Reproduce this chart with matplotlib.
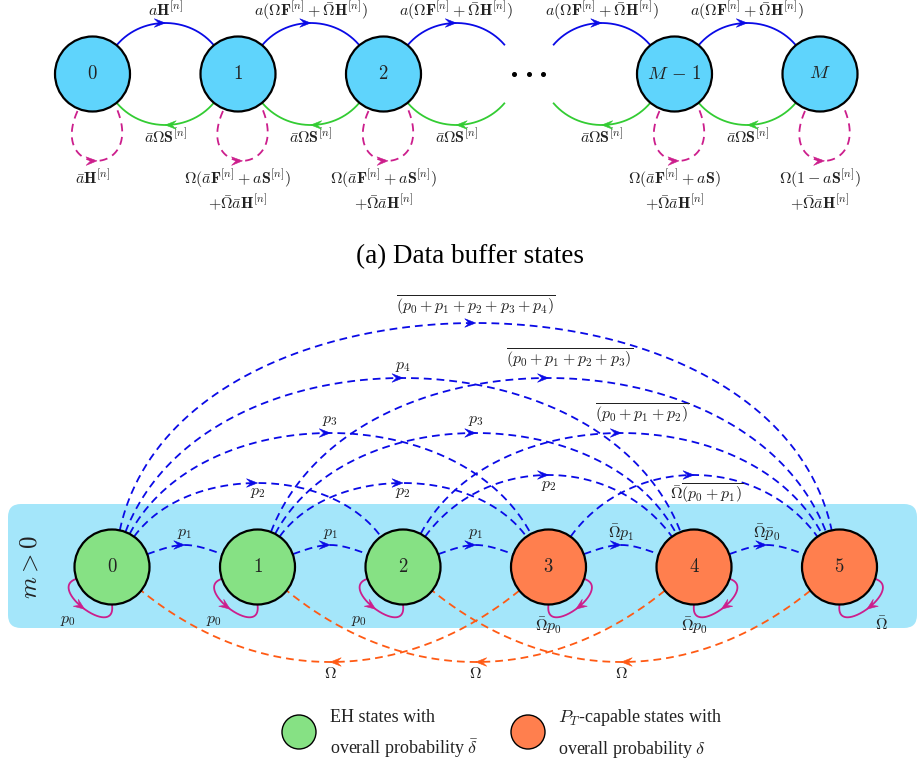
import numpy as np
import matplotlib
matplotlib.use("Agg")
import matplotlib.pyplot as plt
from matplotlib.patches import Circle, FancyBboxPatch, Polygon

plt.rcParams["mathtext.fontset"] = "cm"
plt.rcParams["font.family"] = ["Liberation Serif", "DejaVu Serif"]
plt.rcParams["lines.scale_dashes"] = False

# ---------------- data: buffer chain ----------------
buffer_states = ["$0$", "$1$", "$2$", None, r"$M\,-\,1$", "$M$"]
buffer_up = [
    r"$a\mathbf{H}^{[n]}$",
    r"$a(\Omega\mathbf{F}^{[n]}+\bar{\Omega}\mathbf{H}^{[n]})$",
    r"$a(\Omega\mathbf{F}^{[n]}+\bar{\Omega}\mathbf{H}^{[n]})$",
    r"$a(\Omega\mathbf{F}^{[n]}+\bar{\Omega}\mathbf{H}^{[n]})$",
    r"$a(\Omega\mathbf{F}^{[n]}+\bar{\Omega}\mathbf{H}^{[n]})$",
]
buffer_down = [r"$\bar{a}\Omega\mathbf{S}^{[n]}$"] * 5
buffer_stay = [
    [r"$\bar{a}\mathbf{H}^{[n]}$"],
    [r"$\Omega(\bar{a}\mathbf{F}^{[n]}+a\mathbf{S}^{[n]})$", r"$+\bar{\Omega}\bar{a}\mathbf{H}^{[n]}$"],
    [r"$\Omega(\bar{a}\mathbf{F}^{[n]}+a\mathbf{S}^{[n]})$", r"$+\bar{\Omega}\bar{a}\mathbf{H}^{[n]}$"],
    None,
    [r"$\Omega(\bar{a}\mathbf{F}^{[n]}+a\mathbf{S})$", r"$+\bar{\Omega}\bar{a}\mathbf{H}^{[n]}$"],
    [r"$\Omega(\mathbf{1}-a\mathbf{S}^{[n]})$", r"$+\bar{\Omega}\bar{a}\mathbf{H}^{[n]}$"],
]
caption = "(a) Data buffer states"

# ---------------- data: energy chain ----------------
energy_states = ["$0$", "$1$", "$2$", "$3$", "$4$", "$5$"]
energy_is_eh = [True, True, True, False, False, False]
energy_stay = [r"$p_0$", r"$p_0$", r"$p_0$",
               r"$\bar{\Omega}p_0$", r"$\bar{\Omega}p_0$", r"$\bar{\Omega}$"]
energy_jumps = [
    (0, 1, r"$p_1$"), (1, 2, r"$p_1$"), (2, 3, r"$p_1$"),
    (3, 4, r"$\bar{\Omega}p_1$"), (4, 5, r"$\bar{\Omega}\bar{p}_0$"),
    (0, 2, r"$p_2$"), (1, 3, r"$p_2$"), (2, 4, r"$p_2$"),
    (3, 5, r"$\bar{\Omega}\overline{(p_0+p_1)}$"),
    (0, 3, r"$p_3$"), (1, 4, r"$p_3$"),
    (2, 5, r"$\overline{(p_0+p_1+p_2)}$"),
    (0, 4, r"$p_4$"),
    (1, 5, r"$\overline{(p_0+p_1+p_2+p_3)}$"),
    (0, 5, r"$\overline{(p_0+p_1+p_2+p_3+p_4)}$"),
]
energy_resets = [(3, 0, r"$\Omega$"), (4, 1, r"$\Omega$"), (5, 2, r"$\Omega$")]
legend_items = [("EH states with", r"overall probability $\bar{\delta}$"),
                (r"$P_T$-capable states with", r"overall probability $\delta$")]

# ---------------- styling / layout ----------------
C_BUF = "#5FD4FC"
C_EH = "#86E184"
C_PT = "#FF7F4E"
C_BOX = "#A4E6FA"
C_BLUE = "#0A0AE6"
C_GREEN = "#33CC33"
C_MAG = "#CC1E8C"
C_ORANGE = "#FF5A14"
R = 37.5
MATH = 11.5

fig = plt.figure(figsize=(9.18, 7.68), dpi=100)
ax = fig.add_axes([0, 0, 1, 1])
ax.set_xlim(0, 918)
ax.set_ylim(768, 0)
ax.set_aspect("equal")
ax.axis("off")


def unit(deg):
    a = np.radians(deg)
    return np.array([np.cos(a), -np.sin(a)])


def cubic(p, n=300):
    t = np.linspace(0, 1, n)[:, None]
    return ((1 - t) ** 3 * p[0] + 3 * (1 - t) ** 2 * t * p[1]
            + 3 * (1 - t) * t ** 2 * p[2] + t ** 3 * p[3])


def at(p, t):
    pt = ((1 - t) ** 3 * p[0] + 3 * (1 - t) ** 2 * t * p[1]
          + 3 * (1 - t) * t ** 2 * p[2] + t ** 3 * p[3])
    d = 3 * ((1 - t) ** 2 * (p[1] - p[0]) + 2 * (1 - t) * t * (p[2] - p[1])
             + t ** 2 * (p[3] - p[2]))
    return pt, d


def bend(c0, c1, out_deg, in_deg, apex_y):
    u0, u1 = unit(out_deg), unit(in_deg)
    p0 = np.asarray(c0, float) + R * u0
    p3 = np.asarray(c1, float) + R * u1
    d = (apex_y - (p0[1] + p3[1]) / 2) / (0.375 * (u0[1] + u1[1]))
    return [p0, p0 + d * u0, p3 + d * u1, p3]


def head(tip, direction, color, length=11.0, width=4.3):
    d = direction / np.linalg.norm(direction)
    n = np.array([-d[1], d[0]])
    tip = np.asarray(tip)
    back = tip - length * d
    pts = [tip, back + width * n, tip - 0.6 * length * d, back - width * n]
    ax.add_patch(Polygon(pts, closed=True, facecolor=color, edgecolor=color,
                         lw=0.4, zorder=4))


def curve(p, color, dashed=False, t_arrow=0.5, lw=1.3, dashes=(5.6, 3.6)):
    xy = cubic(p)
    line, = ax.plot(xy[:, 0], xy[:, 1], color=color, lw=lw, zorder=2,
                    solid_capstyle="butt")
    if dashed:
        line.set_dashes(dashes)
    tip, d = at(p, t_arrow)
    head(tip, d, color)


def node(c, fill, label, size=13.5):
    ax.add_patch(Circle(c, R, facecolor=fill, edgecolor="black", lw=1.6, zorder=5))
    ax.text(c[0], c[1], label, ha="center", va="center", fontsize=size,
            color="#222222", zorder=6)


# ---------------- buffer chain ----------------
top_y = 74.0
top_x = 92.5 + 145.5 * np.arange(len(buffer_states))
for i in range(len(buffer_states) - 1):
    c0 = (top_x[i], top_y)
    c1 = (top_x[i + 1], top_y)
    up = bend(c0, c1, 50, 130, 23)
    curve(up, C_BLUE)
    ax.text((top_x[i] + top_x[i + 1]) / 2, 11, buffer_up[i], ha="center",
            va="center", fontsize=MATH, color="#222222")
    down = bend(c1, c0, 230, 310, 125)
    curve(down, C_GREEN)
    ax.text((top_x[i] + top_x[i + 1]) / 2, 138, buffer_down[i], ha="center",
            va="center", fontsize=MATH, color="#222222")

for i, lab in enumerate(buffer_states):
    cx = top_x[i]
    if lab is None:
        ax.plot([cx - 15, cx, cx + 14], [top_y] * 3, ls="none", marker="o",
                ms=2.6, color="black", zorder=5)
        continue
    c = np.array([cx, top_y])
    loop = [c + (-15, 37), c + (-45, 104), c + (54, 104), c + (24, 34)]
    curve(loop, C_MAG, dashed=True, dashes=(5.8, 4.0))
    node(c, C_BUF, lab)
    for k, line in enumerate(buffer_stay[i]):
        ax.text(cx, 179 + 24 * k, line, ha="center", va="center",
                fontsize=MATH, color="#222222")

ax.text(470, 257, caption, ha="center", va="center", fontsize=19.5,
        color="black")

# ---------------- energy chain ----------------
ax.add_patch(FancyBboxPatch((8, 504), 909, 124,
                            boxstyle="round,pad=0,rounding_size=13",
                            facecolor=C_BOX, edgecolor="none", zorder=0))
ax.text(31, 567, r"$m>0$", rotation=90, ha="center", va="center",
        fontsize=18, color="#222222")

bot_y = 567.0
bot_x = 112 + 145.5 * np.arange(len(energy_states))

# exit angle and apex height of each jump, by jump length
exit_deg = {1: 20, 2: 54, 3: 62, 4: 69, 5: 78}
apex = {(0, 2): 483, (1, 3): 483, (2, 4): 475, (3, 5): 475}
apex_len = {1: 545, 3: 433, 4: 378, 5: 323}
label_shift = {1: (0, -12), 2: (0, 9.5), 3: (0, -12.5), 4: (0, -12), 5: (0, -17)}
label_shift_pair = {(2, 4): (0, 10), (3, 5): (13, 19), (2, 5): (21, -19),
                    (1, 5): (21, -19)}

for s, e, lab in energy_jumps:
    n = e - s
    a = exit_deg[n]
    ay = apex.get((s, e), apex_len.get(n))
    p = bend((bot_x[s], bot_y), (bot_x[e], bot_y), a, 180 - a, ay)
    curve(p, C_BLUE, dashed=True)
    mid = (bot_x[s] + bot_x[e]) / 2
    dx, dy = label_shift_pair.get((s, e), label_shift[n])
    ax.text(mid + dx, ay + dy, lab, ha="center", va="center",
            fontsize=MATH, color="#222222", zorder=6)

for s, e, lab in energy_resets:
    p = bend((bot_x[s], bot_y), (bot_x[e], bot_y), 219, 321, 662)
    curve(p, C_ORANGE, dashed=True)
    ax.text((bot_x[s] + bot_x[e]) / 2, 674, lab, ha="center", va="center",
            fontsize=MATH, color="#222222")

stay_label_pos = [(-44, 53), (-44, 53), (-44, 53), (0, 59), (0, 59), (42, 58)]
for i, lab in enumerate(energy_states):
    c = np.array([bot_x[i], bot_y])
    sgn = -1 if energy_is_eh[i] else 1
    loop = [c + (36 * sgn, 12), c + (66 * sgn, 22), c + (-5 * sgn, 74), c + (0, 37.5)]
    curve(loop, C_MAG, t_arrow=0.5)
    node(c, C_EH if energy_is_eh[i] else C_PT, lab)
    ox, oy = stay_label_pos[i]
    ax.text(c[0] + ox, c[1] + oy, energy_stay[i], ha="center", va="center",
            fontsize=MATH, color="#222222")

# ---------------- legend ----------------
for (line1, line2), cx, tx, fill in zip(legend_items, (299, 528), (330, 558),
                                        (C_EH, C_PT)):
    ax.add_patch(Circle((cx, 732), 17, facecolor=fill, edgecolor="black", lw=1.0))
    ax.text(tx, 717, line1, ha="left", va="center", fontsize=13, color="#222222")
    ax.text(tx, 749, line2, ha="left", va="center", fontsize=13, color="#222222")

fig.savefig("out.png", dpi=100)
